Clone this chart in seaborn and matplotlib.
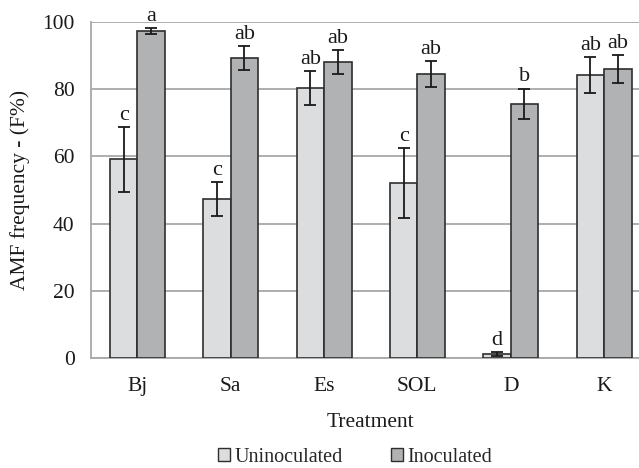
import numpy as np
import pandas as pd
import matplotlib
matplotlib.use("Agg")
import matplotlib.pyplot as plt
from matplotlib.patches import Patch
import seaborn as sns

# Data
treatments = ["Bj", "Sa", "Es", "SOL", "D", "K"]
uninoculated = [59.1, 47.3, 80.4, 52.1, 1.2, 84.3]
uninoculated_err = [9.6, 5.0, 5.0, 10.4, 0.5, 5.4]
inoculated = [97.3, 89.3, 88.1, 84.6, 75.6, 86.0]
inoculated_err = [1.0, 3.5, 3.5, 3.9, 4.6, 4.1]
letters_un = ["c", "c", "ab", "c", "d", "ab"]
letters_in = ["a", "ab", "ab", "ab", "b", "ab"]
groups = ["Uninoculated", "Inoculated"]

df = pd.DataFrame({
    "Treatment": treatments * 2,
    "Group": [groups[0]] * 6 + [groups[1]] * 6,
    "F": uninoculated + inoculated,
})

sns.set_theme(style="white")
plt.rcParams["font.family"] = ["Liberation Serif", "DejaVu Serif"]

colors = {"Uninoculated": "#dcdddf", "Inoculated": "#b1b2b4"}
edge = "#2e2e2e"
grid_c = "#a8a8a8"
txt = "#1a1a1a"
fs = 15.5

fig = plt.figure(figsize=(6.39, 4.68), dpi=100)
ax = fig.add_axes([90.7 / 639, 110 / 468, 560 / 639, 336 / 468])

sns.barplot(data=df, x="Treatment", y="F", hue="Group", order=treatments,
            hue_order=groups, palette=colors, width=0.59, errorbar=None,
            edgecolor=edge, linewidth=1.2, legend=False, ax=ax, zorder=3)

errs = [uninoculated_err, inoculated_err]
labs = [letters_un, letters_in]
for cont, err, lab in zip(ax.containers, errs, labs):
    for bar, e, l in zip(cont, err, lab):
        xc = bar.get_x() + bar.get_width() / 2
        h = bar.get_height()
        ax.errorbar(xc, h, yerr=e, fmt="none", ecolor=txt,
                    elinewidth=1.3, capsize=4.5, capthick=1.3, zorder=4)
        ax.annotate(l, (xc, h + e), xytext=(0, 1.5), textcoords="offset points",
                    ha="center", va="bottom", fontsize=16, color=txt)

ax.set_ylim(0, 100)
ax.set_xlim(-0.5, 5.5)
ax.set_yticks([0, 20, 40, 60, 80, 100])
ax.yaxis.grid(True, color=grid_c, linewidth=1.3, zorder=0)
ax.set_axisbelow(True)

for s in ["top", "right"]:
    ax.spines[s].set_visible(False)
for s in ["left", "bottom"]:
    ax.spines[s].set_color(grid_c)
    ax.spines[s].set_linewidth(1.3)

ax.tick_params(axis="x", which="major", length=0, pad=14, labelsize=fs, labelcolor=txt)
ax.set_xticks(np.arange(-0.5, 6.0, 1.0), minor=True)
ax.tick_params(axis="x", which="minor", length=6, width=1.3, color=grid_c)
ax.tick_params(axis="y", length=5.5, width=1.3, color=grid_c, pad=6, labelsize=fs,
               labelcolor=txt)

ax.set_xlabel("Treatment", fontsize=fs, color=txt, labelpad=12)
ax.set_ylabel("AMF frequency - (F%)", fontsize=fs, color=txt, labelpad=9)

handles = [Patch(facecolor=colors[g], edgecolor=edge, linewidth=1.0, label=g) for g in groups]
fig.legend(handles=handles, loc="center", bbox_to_anchor=(355 / 639, 1 - 457 / 468),
           ncol=2, frameon=False, fontsize=14.5, handlelength=0.6, handleheight=0.6,
           handletextpad=0.2, columnspacing=2.4)

fig.savefig("out.png", dpi=100)
